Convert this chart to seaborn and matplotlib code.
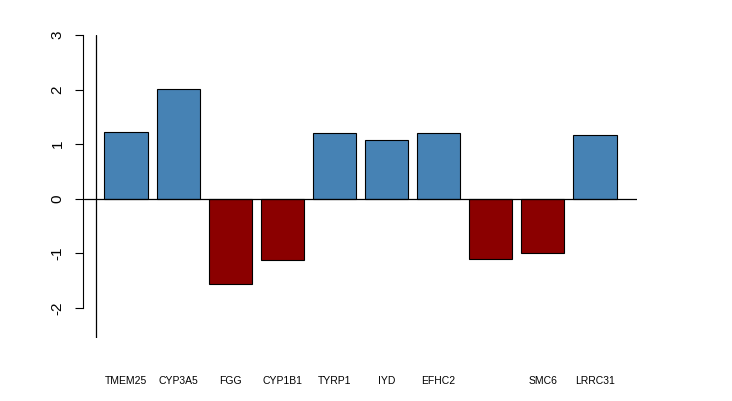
import matplotlib
matplotlib.use("Agg")
import matplotlib.pyplot as plt
import numpy as np
import pandas as pd
import seaborn as sns

genes = ["TMEM25", "CYP3A5", "FGG", "CYP1B1", "TYRP1", "IYD", "EFHC2", "", "SMC6", "LRRC31"]
values = [1.22, 2.02, -1.56, -1.12, 1.21, 1.08, 1.20, -1.10, -1.00, 1.16]

df = pd.DataFrame({"gene": genes, "value": values})
df["direction"] = np.where(df["value"] > 0, "up", "down")

sns.set_style("white")
plt.rcParams["font.family"] = ["Liberation Sans", "DejaVu Sans"]
plt.rcParams["text.color"] = "black"
plt.rcParams["xtick.color"] = "black"
plt.rcParams["ytick.color"] = "black"
plt.rcParams["axes.edgecolor"] = "black"

fig = plt.figure(figsize=(7.32, 4.01), dpi=100)
ax = fig.add_axes([84 / 732, (401 - 338) / 401, (637 - 84) / 732, (338 - 35) / 401])

sns.barplot(
    data=df,
    x="gene",
    y="value",
    hue="direction",
    palette={"up": "#4682B4", "down": "#8B0000"},
    order=genes,
    width=1 / 1.2,
    dodge=False,
    legend=False,
    edgecolor="black",
    linewidth=0.8,
    saturation=1,
    ax=ax,
)

ax.set_xlim(-0.81, 9.81)
ax.set_ylim(-2.55, 3.0)
ax.axhline(0, color="black", lw=0.9)
ax.axvline(-0.583, color="black", lw=0.9)

for side in ["top", "right", "bottom"]:
    ax.spines[side].set_visible(False)
ax.spines["left"].set_bounds(-2, 3)
ax.spines["left"].set_linewidth(0.8)
ax.spines["left"].set_position(("outward", 1))

ax.set_yticks(np.arange(-2, 4))
ax.set_yticklabels([str(v) for v in range(-2, 4)], rotation=90, va="center", fontsize=11, color="black")
ax.tick_params(axis="y", length=6, width=0.8, pad=7, left=True, colors="black")
ax.set_xticks(range(len(genes)))
ax.set_xticklabels(genes, fontsize=7.5, color="black")
ax.tick_params(axis="x", length=0, pad=27)

ax.set_xlabel("")
ax.set_ylabel("")

plt.savefig("out.png", dpi=100)
